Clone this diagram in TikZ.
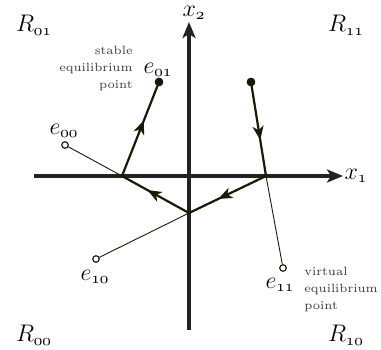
\documentclass[tikz,border=0pt]{standalone}
\usetikzlibrary{arrows.meta,decorations.markings}
\definecolor{trajc}{RGB}{25,25,5}
\definecolor{axisc}{RGB}{34,34,34}
\definecolor{notec}{RGB}{60,60,60}
\begin{document}
\begin{tikzpicture}[x=0.5pt,y=-0.5pt,
  axis/.style={draw=axisc,line width=1.6pt,-{Stealth[length=8pt,width=6.5pt,inset=2pt]}},
  traj/.style={draw=trajc,line width=1.1pt},
  thinline/.style={draw=trajc,line width=0.45pt},
  midarrow/.style={postaction={decorate},decoration={markings,
     mark=at position #1 with {\arrow{Stealth[length=7pt,width=5.5pt,inset=2pt]}}}},
  opendot/.style={circle,draw=trajc,fill=white,line width=0.5pt,inner sep=0pt,minimum size=3.2pt},
  fulldot/.style={circle,draw=trajc,fill=trajc,inner sep=0pt,minimum size=3.8pt},
  lbl/.style={inner sep=0pt,font=\large},
  note/.style={inner sep=0pt,font=\fontsize{6}{8.5}\selectfont,text=notec}]
\useasboundingbox (0,0) rectangle (381,349);
% axes
\coordinate (xl) at (34,176);
\coordinate (xr) at (343,176);
\coordinate (yb) at (189,330);
\coordinate (yt) at (189,22);
\draw[axis] (xl) -- (xr);
\draw[axis] (yb) -- (yt);
% switching points
\coordinate (A) at (122,176);
\coordinate (B) at (189,213);
\coordinate (C) at (266,176);
% equilibrium points and start
\node[opendot] (e00) at (65,145) {};
\node[fulldot] (e01) at (159,82) {};
\node[opendot] (e10) at (96,259) {};
\node[fulldot] (s11) at (251,82) {};
\node[opendot] (e11) at (283,268) {};
% thin lines
\draw[thinline] (e00) -- (A);
\draw[thinline] (e10) -- (B);
\draw[thinline] (C) -- (e11);
% trajectory
\draw[traj,midarrow=0.62] (A) -- (e01);
\draw[traj,midarrow=0.62] (B) -- (A);
\draw[traj,midarrow=0.62] (C) -- (B);
\draw[traj,midarrow=0.6] (s11) -- (C);
% redraw dots on top
\node[opendot] at (e00) {};
\node[fulldot] at (e01) {};
\node[opendot] at (e10) {};
\node[fulldot] at (s11) {};
\node[opendot] at (e11) {};
% axis labels
\node[lbl] (lx2) at (194,13) {$x_{\mathnormal{2}}$};
\node[lbl] (lx1) at (356,176) {$x_{\mathnormal{1}}$};
% region labels
\node[lbl] (r01) at (34,25) {$R_{\mathnormal{01}}$};
\node[lbl] (r11) at (346,25) {$R_{\mathnormal{11}}$};
\node[lbl] (r00) at (34,335) {$R_{\mathnormal{00}}$};
\node[lbl] (r10) at (346,335) {$R_{\mathnormal{10}}$};
% point labels
\node[lbl] (le01) at (158,70) {$e_{\mathnormal{01}}$};
\node[lbl] (le00) at (64,131) {$e_{\mathnormal{00}}$};
\node[lbl] (le10) at (95,277) {$e_{\mathnormal{10}}$};
\node[lbl] (le11) at (280,285) {$e_{\mathnormal{11}}$};
% notes
\node[note,align=right,anchor=east] (stable) at (133,68) {stable\\equilibrium\\point};
\node[note,align=left,anchor=west] (virtual) at (304,289) {virtual\\equilibrium\\point};
\end{tikzpicture}
\end{document}
